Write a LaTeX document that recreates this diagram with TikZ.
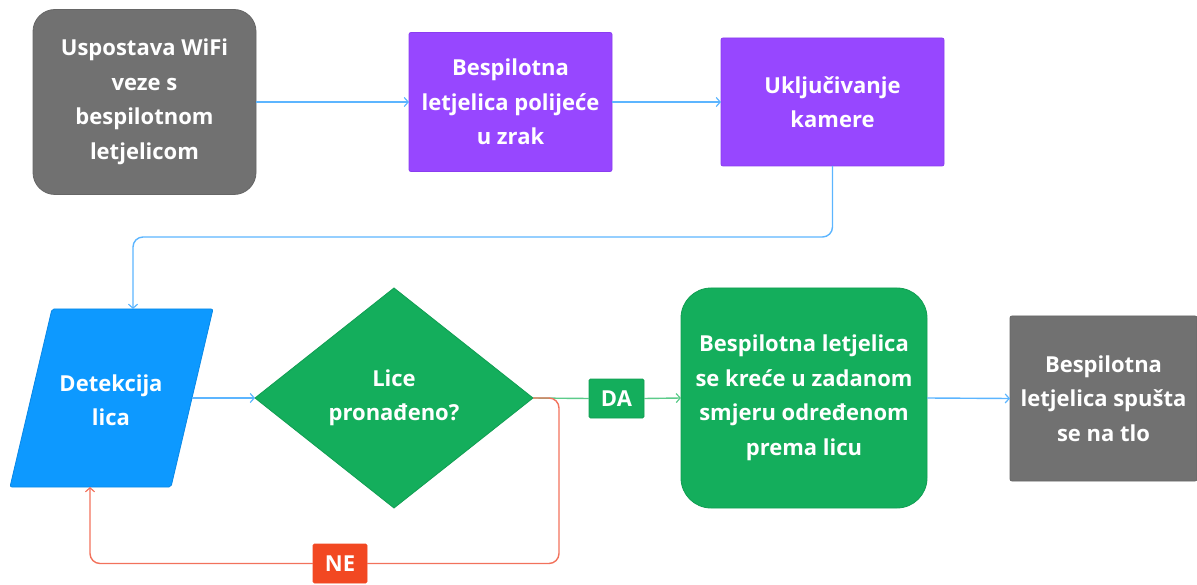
\documentclass[tikz,border=0pt]{standalone}
\usepackage{fontspec}
\setmainfont{Open Sans}
\usetikzlibrary{arrows.meta,shapes.geometric}
\definecolor{cgray}{HTML}{717171}
\definecolor{cgrayd}{HTML}{666666}
\definecolor{cpurple}{HTML}{9747FF}
\definecolor{cpurpled}{HTML}{8A3DF0}
\definecolor{cblue}{HTML}{0D99FF}
\definecolor{cblued}{HTML}{0A88E6}
\definecolor{cgreen}{HTML}{14AE5C}
\definecolor{cgreend}{HTML}{109E52}
\definecolor{cred}{HTML}{F24822}
\definecolor{lblue}{HTML}{5CB5FF}
\definecolor{lgreen}{HTML}{5CCB8A}
\definecolor{lred}{HTML}{F2725C}
\begin{document}
\begin{tikzpicture}[x=1pt,y=-1pt,
  lbl/.style={text=white,font=\bfseries\fontsize{22}{34.5}\selectfont,align=center,inner sep=0pt,outer sep=0pt},
  box/.style={lbl,draw,line width=0.8pt,rectangle},
  con/.style={line width=1.4pt,rounded corners=10pt},
  tip/.style={-{Straight Barb[length=4pt,width=9pt,line width=1.2pt]}}]
\useasboundingbox (0,0) rectangle (1197,585);
% top row
\node[box,fill=cgray,draw=cgrayd,rounded corners=22pt,minimum width=223pt,minimum height=185pt] (wifi) at (144.5,102) {Uspostava WiFi\\veze s\\bespilotnom\\letjelicom};
\node[box,fill=cpurple,draw=cpurpled,rounded corners=2pt,minimum width=203pt,minimum height=139pt] (pol) at (510.5,102) {Bespilotna\\letjelica polijeće\\u zrak};
\node[box,fill=cpurple,draw=cpurpled,rounded corners=2pt,minimum width=223pt,minimum height=128pt] (kam) at (832.5,102) {Uključivanje\\kamere};
% parallelogram
\draw[fill=cblue,draw=cblued,line width=0.8pt,rounded corners=2pt] (52,309) -- (213,309) -- (171,487) -- (10,487) -- cycle;
\node[lbl] (det) at (111,400) {Detekcija\\lica};
\coordinate (dettop) at (133,309);
\coordinate (dete) at (192,398);
\coordinate (detbot) at (90,487);
% diamond
\node[lbl,diamond,fill=cgreen,draw=cgreend,line width=0.8pt,minimum width=278pt,minimum height=220pt,aspect=1.26] (dec) at (394,398) {Lice\\pronađeno?};
\node[box,fill=cgreen,draw=cgreend,rounded corners=1.5pt,minimum width=55pt,minimum height=39pt] (da) at (616.5,398.5) {DA};
\node[box,fill=cred,draw=cred,rounded corners=1.5pt,minimum width=54pt,minimum height=39pt] (ne) at (340,563.5) {NE};
\node[box,fill=cgreen,draw=cgreend,rounded corners=30pt,minimum width=246pt,minimum height=220pt] (move) at (804,398) {Bespilotna letjelica\\se kreće u zadanom\\smjeru određenom\\prema licu};
\node[box,fill=cgray,draw=cgrayd,rounded corners=2pt,minimum width=187pt,minimum height=165pt] (land) at (1103.5,398.5) {Bespilotna\\letjelica spušta\\se na tlo};
% connectors
\draw[con,lblue,tip] (wifi.east) -- (pol.west);
\draw[con,lblue,tip] (pol.east) -- (kam.west);
\draw[con,lblue,tip] (kam.south) -- (832.5,237) -- (133,237) -- (dettop);
\draw[con,lblue,tip] (dete) -- (dec.west);
\draw[con,lgreen] (dec.east) -- (da.west);
\draw[con,lgreen,tip] (da.east) -- (move.west);
\draw[con,lred] (dec.east) -- (559,398) -- (559,563.5) -- (ne.east);
\draw[con,lred,tip] (ne.west) -- (90,563.5) -- (detbot);
\draw[con,lblue,tip] (move.east) -- (land.west);
\end{tikzpicture}
\end{document}
